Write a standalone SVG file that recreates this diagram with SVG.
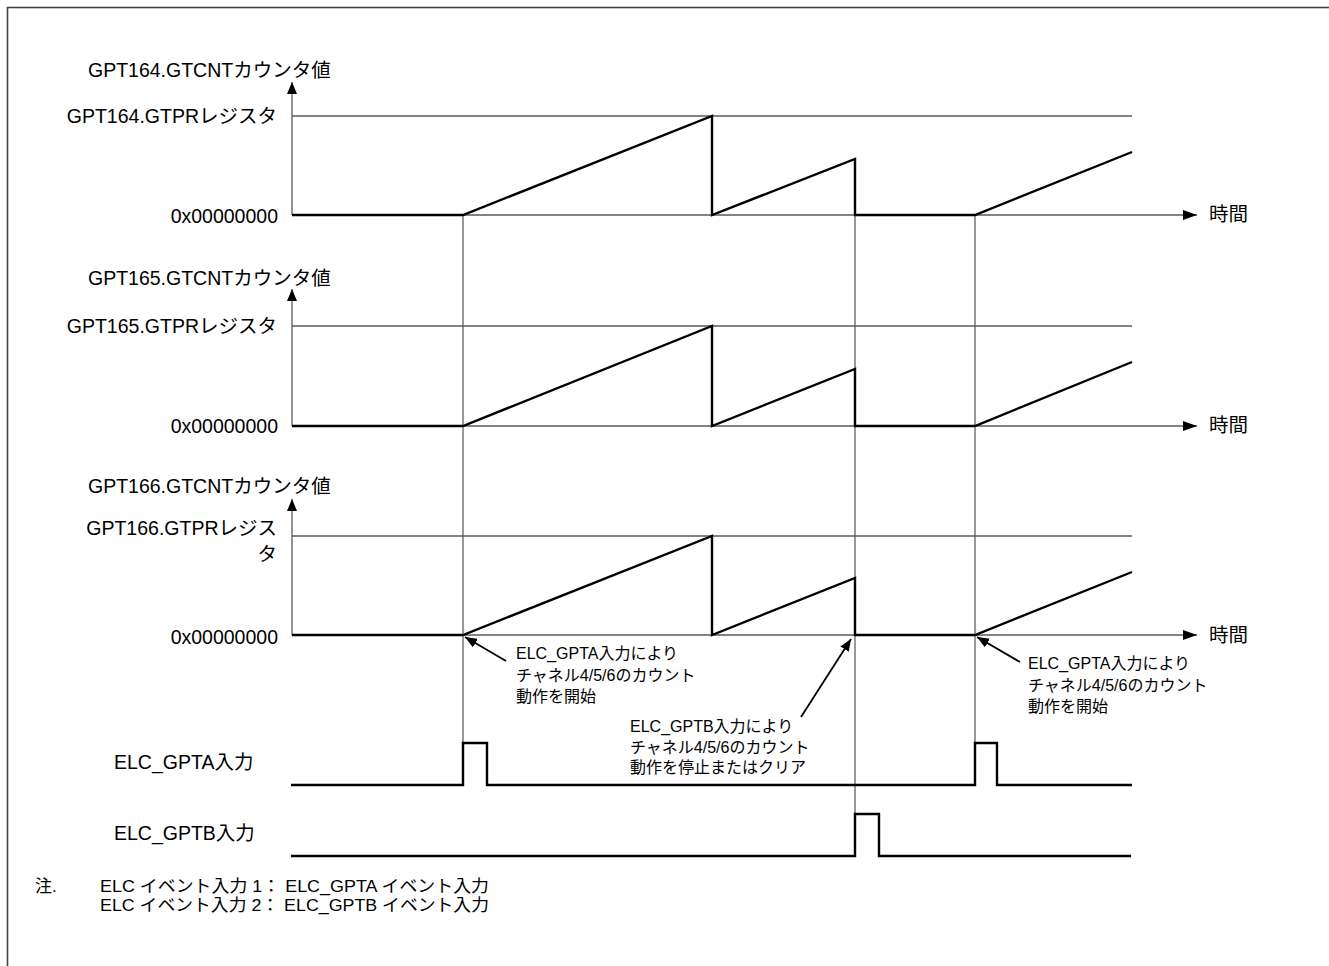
<svg xmlns="http://www.w3.org/2000/svg" width="1329" height="966" viewBox="0 0 1329 966">
<defs>
<style>
.lbl{font-family:"Liberation Sans","Noto Sans CJK JP",sans-serif;font-size:19.5px;fill:#000}
.ann{font-family:"Liberation Sans","Noto Sans CJK JP",sans-serif;font-size:16px;fill:#000}
.note{font-family:"Liberation Sans","Noto Sans CJK JP",sans-serif;font-size:17px;fill:#000}
.end{text-anchor:end}
.grid{stroke:#5a5a5a;stroke-width:1.3;fill:none}
.guide{stroke:#333;stroke-width:1;fill:none}
.wave{stroke:#000;stroke-width:2.4;fill:none;stroke-linejoin:miter}
.ptr{stroke:#000;stroke-width:1.8;fill:none}
</style>
<marker id="ah" viewBox="0 0 12 10" refX="12" refY="5" markerWidth="12" markerHeight="10" markerUnits="userSpaceOnUse" orient="auto">
<path d="M0,0 L12,5 L0,10 Z" fill="#000"/>
</marker>
<marker id="ahs" viewBox="0 0 14 10" refX="14" refY="5" markerWidth="14" markerHeight="10" markerUnits="userSpaceOnUse" orient="auto">
<path d="M0,0 L14,5 L0,10 Z" fill="#000"/>
</marker>
</defs>
<rect x="7.5" y="7.5" width="1340" height="980" fill="#fff" stroke="#444" stroke-width="1.6"/>

<g id="guides">
<line class="guide" x1="463" y1="215" x2="463" y2="743"/>
<line class="guide" x1="855" y1="159" x2="855" y2="814"/>
<line class="guide" x1="975" y1="215" x2="975" y2="743"/>
</g>

<g id="chart-gpt164">
<line class="grid" x1="292" y1="215" x2="292" y2="82" marker-end="url(#ah)"/>
<line class="grid" x1="292" y1="116" x2="1132" y2="116"/>
<line class="grid" x1="292" y1="215" x2="1197" y2="215" marker-end="url(#ahs)"/>
<polyline class="wave" points="292,215 463,215 712,116 712,215 855,159 855,215 975,215 1132,152"/>
<text class="lbl" x="88" y="77">GPT164.GTCNTカウンタ値</text>
<text class="lbl end" x="277" y="123">GPT164.GTPRレジスタ</text>
<text class="lbl end" x="278" y="223">0x00000000</text>
<text class="lbl" x="1209" y="221">時間</text>
</g>

<g id="chart-gpt165">
<line class="grid" x1="292" y1="426" x2="292" y2="289" marker-end="url(#ah)"/>
<line class="grid" x1="292" y1="326" x2="1132" y2="326"/>
<line class="grid" x1="292" y1="426" x2="1197" y2="426" marker-end="url(#ahs)"/>
<polyline class="wave" points="292,426 463,426 712,326 712,426 855,369 855,426 975,426 1132,362"/>
<text class="lbl" x="88" y="285">GPT165.GTCNTカウンタ値</text>
<text class="lbl end" x="277" y="333">GPT165.GTPRレジスタ</text>
<text class="lbl end" x="278" y="433">0x00000000</text>
<text class="lbl" x="1209" y="432">時間</text>
</g>

<g id="chart-gpt166">
<line class="grid" x1="292" y1="635" x2="292" y2="499" marker-end="url(#ah)"/>
<line class="grid" x1="292" y1="536" x2="1132" y2="536"/>
<line class="grid" x1="292" y1="635" x2="1197" y2="635" marker-end="url(#ahs)"/>
<polyline class="wave" points="292,635 463,635 712,536 712,635 855,578 855,635 975,635 1132,572"/>
<text class="lbl" x="88" y="493">GPT166.GTCNTカウンタ値</text>
<text class="lbl end" x="277" y="535">GPT166.GTPRレジス</text>
<text class="lbl end" x="277" y="561">タ</text>
<text class="lbl end" x="278" y="644">0x00000000</text>
<text class="lbl" x="1209" y="642">時間</text>
</g>

<g id="elc-gpta">
<polyline class="wave" points="291,785 463,785 463,743 487,743 487,785 975,785 975,743 997,743 997,785 1132,785"/>
<text class="lbl" x="114" y="769">ELC_GPTA入力</text>
</g>

<g id="elc-gptb">
<polyline class="wave" points="291,856 855,856 855,814 879,814 879,856 1131,856"/>
<text class="lbl" x="114" y="840">ELC_GPTB入力</text>
</g>

<g id="connectors">
<line class="ptr" x1="506" y1="661" x2="465" y2="637" marker-end="url(#ah)"/>
<line class="ptr" x1="801" y1="717" x2="851" y2="639" marker-end="url(#ah)"/>
<line class="ptr" x1="1020" y1="662" x2="977" y2="637" marker-end="url(#ah)"/>
</g>

<g id="note-start-1">
<text class="ann" x="516" y="659">ELC_GPTA入力により</text>
<text class="ann" x="516" y="681">チャネル4/5/6のカウント</text>
<text class="ann" x="516" y="702">動作を開始</text>
</g>

<g id="note-stop">
<text class="ann" x="630" y="732">ELC_GPTB入力により</text>
<text class="ann" x="630" y="753">チャネル4/5/6のカウント</text>
<text class="ann" x="630" y="773">動作を停止またはクリア</text>
</g>

<g id="note-start-2">
<text class="ann" x="1028" y="669">ELC_GPTA入力により</text>
<text class="ann" x="1028" y="691">チャネル4/5/6のカウント</text>
<text class="ann" x="1028" y="712">動作を開始</text>
</g>

<g id="footnote">
<text class="note" x="35" y="892">注.</text>
<text class="note" x="100" y="892" textLength="389" lengthAdjust="spacingAndGlyphs">ELC イベント入力 1： ELC_GPTA イベント入力</text>
<text class="note" x="100" y="911" textLength="389" lengthAdjust="spacingAndGlyphs">ELC イベント入力 2： ELC_GPTB イベント入力</text>
</g>
</svg>
